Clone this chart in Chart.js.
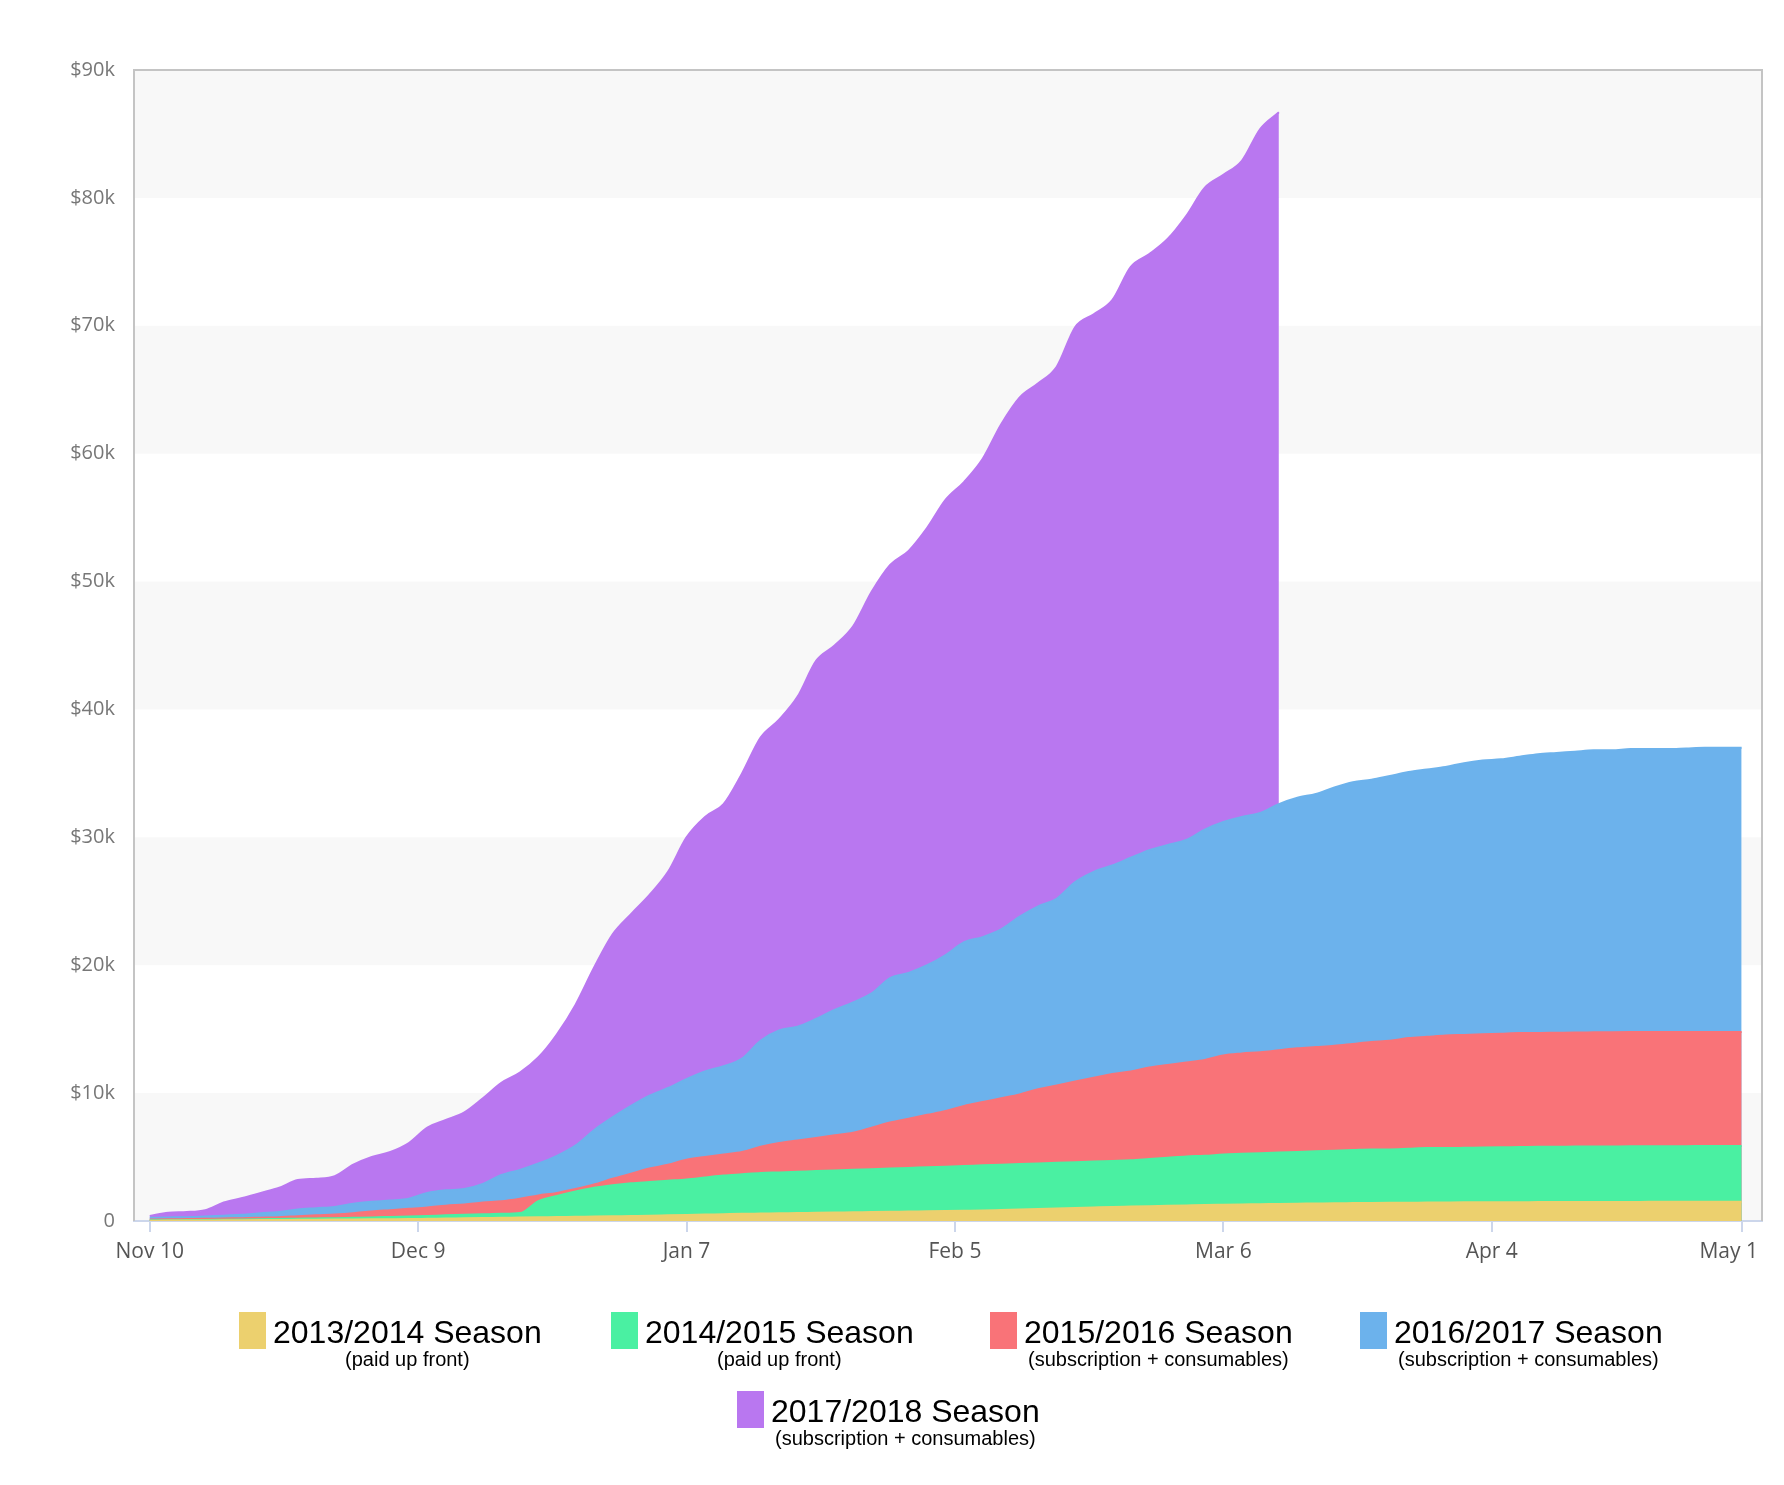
<!DOCTYPE html>
<html><head><meta charset="utf-8">
<script src="https://cdn.jsdelivr.net/npm/chart.js@4.4.1/dist/chart.umd.min.js"></script>
<style>
html,body{margin:0;padding:0;background:#fff;width:1784px;height:1485px;overflow:hidden;}
#wrap{position:absolute;left:0;top:0;width:1784px;height:1290px;}
#legend{position:absolute;left:0;top:0;width:1784px;height:1485px;pointer-events:none;}
.item{position:absolute;}
.sw{position:absolute;left:0;top:0;width:27px;height:37px;}
.txt{position:absolute;left:34px;top:4px;white-space:nowrap;}
.t{font-family:"Liberation Sans",Arial,sans-serif;font-size:32px;line-height:32px;color:#000;}
.s{font-family:"Liberation Sans",Arial,sans-serif;font-size:20px;line-height:22px;color:#000;text-align:center;}
</style></head><body>
<div id="wrap"><canvas id="c" width="1784" height="1290"></canvas></div>
<div id="legend"></div>
<script>
// Days since Nov 10 (season day index)
const days = [0,2,4,6,8,10,12,14,16,18,20,22,24,26,28,30,32,34,36,38,40,42,44,46,48,50,52,54,56,58,60,62,64,66,68,70,72,74,76,78,80,82,84,86,88,90,92,94,96,98,100,102,104,106,108,110,112,114,116,118,120,122,124,126,128,130,132,134,136,138,140,142,144,146,148,150,152,154,156,158,160,162,164,166,168,170,172];

// Tick positions (days) and labels
const tickDays = [0,29,58,87,116,145,172];
const tickLabels = ["Nov 10","Dec 9","Jan 7","Feb 5","Mar 6","Apr 4","May 1"];

// Series names / subtitles / colours
const seriesNames = ["2013/2014 Season","2014/2015 Season","2015/2016 Season","2016/2017 Season","2017/2018 Season"];
const seriesSubs = ["(paid up front)","(paid up front)","(subscription + consumables)","(subscription + consumables)","(subscription + consumables)"];
const seriesColors = ["#ECD06E","#4AF0A2","#F97378","#6CB2EC","#B977F0"];

// Cumulative revenue, in $k
const s2013 = [0.02,0.03,0.03,0.04,0.05,0.06,0.07,0.08,0.09,0.10,
 0.11,0.12,0.13,0.14,0.15,0.17,0.19,0.21,0.23,0.25,
 0.27,0.29,0.31,0.33,0.35,0.37,0.39,0.41,0.44,0.47,
 0.50,0.53,0.56,0.58,0.60,0.62,0.64,0.66,0.68,0.70,
 0.72,0.74,0.76,0.78,0.80,0.82,0.86,0.90,0.94,0.98,
 1.02,1.06,1.10,1.13,1.16,1.19,1.22,1.25,1.27,1.29,
 1.31,1.33,1.35,1.37,1.39,1.40,1.41,1.42,1.43,1.44,
 1.45,1.46,1.46,1.47,1.47,1.48,1.48,1.48,1.49,1.49,
 1.49,1.50,1.50,1.50,1.50,1.50,1.50];
const s2014 = [0.05,0.06,0.07,0.08,0.10,0.12,0.14,0.16,0.18,0.20,
 0.22,0.25,0.28,0.32,0.36,0.40,0.44,0.48,0.52,0.56,
 0.62,1.55,1.95,2.30,2.60,2.80,2.95,3.05,3.15,3.25,
 3.40,3.55,3.65,3.75,3.80,3.85,3.90,3.95,4.00,4.05,
 4.10,4.15,4.20,4.25,4.30,4.35,4.40,4.45,4.50,4.55,
 4.60,4.65,4.70,4.75,4.85,4.95,5.05,5.10,5.20,5.25,
 5.30,5.35,5.40,5.45,5.50,5.55,5.60,5.60,5.65,5.70,
 5.70,5.72,5.75,5.77,5.78,5.80,5.80,5.82,5.82,5.83,
 5.84,5.84,5.85,5.85,5.86,5.86,5.86];
const s2015 = [0.12,0.13,0.15,0.17,0.20,0.22,0.26,0.30,0.38,0.45,
 0.50,0.60,0.75,0.85,0.95,1.05,1.20,1.30,1.45,1.55,
 1.75,2.00,2.20,2.50,2.85,3.30,3.70,4.10,4.40,4.80,
 5.00,5.20,5.40,5.80,6.10,6.30,6.50,6.70,6.90,7.30,
 7.70,8.00,8.30,8.60,9.00,9.30,9.60,9.90,10.30,10.60,
 10.90,11.20,11.50,11.70,12.00,12.20,12.40,12.60,12.95,13.10,
 13.20,13.35,13.50,13.60,13.70,13.85,14.00,14.10,14.30,14.40,
 14.50,14.55,14.60,14.65,14.70,14.70,14.72,14.74,14.75,14.76,
 14.77,14.78,14.78,14.78,14.78,14.78,14.78];
const s2016 = [0.25,0.28,0.30,0.35,0.42,0.48,0.60,0.70,0.90,1.00,
 1.10,1.35,1.50,1.60,1.75,2.20,2.40,2.50,2.90,3.60,
 4.00,4.50,5.10,5.90,7.10,8.10,9.00,9.80,10.40,11.10,
 11.70,12.10,12.70,14.10,14.90,15.20,15.80,16.50,17.10,17.80,
 19.00,19.40,20.00,20.80,21.80,22.20,22.80,23.80,24.60,25.20,
 26.50,27.30,27.80,28.40,29.00,29.40,29.80,30.60,31.20,31.60,
 31.90,32.60,33.10,33.40,33.90,34.30,34.50,34.80,35.10,35.30,
 35.50,35.80,36.00,36.10,36.30,36.50,36.60,36.70,36.80,36.80,
 36.90,36.90,36.90,36.95,37.00,37.00,37.00];
const s2017 = [0.40,0.65,0.70,0.85,1.45,1.80,2.20,2.60,3.20,3.30,
 3.50,4.40,5.00,5.40,6.10,7.30,7.90,8.50,9.60,10.80,
 11.60,12.80,14.60,16.90,19.80,22.40,24.00,25.50,27.30,30.00,
 31.60,32.60,35.00,37.80,39.20,41.00,43.80,45.00,46.50,49.20,
 51.30,52.40,54.20,56.40,57.80,59.60,62.30,64.40,65.50,66.80,
 69.90,70.90,72.00,74.60,75.60,76.80,78.60,80.80,81.80,82.90,
 85.40,86.70];

const seriesValues = [s2013, s2014, s2015, s2016, s2017];

const datasets = seriesValues.map((vals, i) => ({
  label: seriesNames[i],
  data: vals.map((v, j) => ({x: days[j], y: v})),
  backgroundColor: seriesColors[i],
  borderColor: seriesColors[i],
  borderWidth: 2,
  pointRadius: 0,
  fill: 'origin',
  cubicInterpolationMode: 'monotone'
}));

const X_FONT = '21px "Open Sans", sans-serif';

const bandPlugin = {
  id: 'bands',
  beforeDraw(chart) {
    const {ctx, chartArea: a, scales: {y}} = chart;
    const tv = y.ticks.map(t => t.value);
    ctx.save();
    ctx.fillStyle = '#f8f8f8';
    for (let i = 0; i + 1 < tv.length; i += 2) {
      const p0 = y.getPixelForValue(tv[i]), p1 = y.getPixelForValue(tv[i + 1]);
      ctx.fillRect(a.left, p1, a.right - a.left, p0 - p1);
    }
    ctx.restore();
  },
  afterDraw(chart) {
    const {ctx, chartArea: a, scales: {x}} = chart;
    ctx.save();
    ctx.strokeStyle = '#c4c4c4';
    ctx.lineWidth = 2;
    ctx.beginPath();
    ctx.moveTo(a.left, a.bottom);
    ctx.lineTo(a.left, a.top);
    ctx.lineTo(a.right, a.top);
    ctx.lineTo(a.right, a.bottom);
    ctx.stroke();
    // x-axis labels (last one kept inside the plot edge, like the original)
    ctx.font = X_FONT;
    ctx.fillStyle = '#555';
    ctx.textBaseline = 'middle';
    ctx.textAlign = 'center';
    tickDays.forEach((d, k) => {
      let px = x.getPixelForValue(d);
      const w = ctx.measureText(tickLabels[k]).width;
      if (px + w / 2 > a.right - 4) px = a.right - 4 - w / 2;
      ctx.fillText(tickLabels[k], px, a.bottom + 31);
    });
    ctx.restore();
  }
};

new Chart(document.getElementById('c'), {
  type: 'line',
  data: {datasets},
  plugins: [bandPlugin],
  options: {
    responsive: false,
    animation: false,
    devicePixelRatio: 1,
    layout: {padding: {top: 70, right: 22, bottom: 0, left: 0}},
    plugins: {legend: {display: false}, tooltip: {enabled: false}},
    scales: {
      x: {
        type: 'linear',
        min: -1.7,
        max: 174.2,
        afterFit: s => { s.height = 69; },
        afterBuildTicks: s => { s.ticks = tickDays.map(v => ({value: v})); },
        grid: {drawOnChartArea: false, drawTicks: true, tickLength: 11, color: '#ccd6eb', lineWidth: 2},
        border: {display: true, color: '#ccd6eb', width: 2},
        ticks: {display: false}
      },
      y: {
        min: 0, max: 90,
        afterFit: s => { s.width = 134; },
        grid: {display: false},
        border: {display: false},
        ticks: {
          stepSize: 10, padding: 11,
          color: '#777',
          font: {family: '"Open Sans", sans-serif', size: 20},
          callback: v => v === 0 ? '0' : '$' + v + 'k'
        }
      }
    }
  }
});

// HTML legend
const legendPos = [[239,1312],[611,1312],[990,1312],[1360,1312],[737,1391]];
const lg = document.getElementById('legend');
seriesNames.forEach((name, i) => {
  const it = document.createElement('div');
  it.className = 'item';
  it.style.left = legendPos[i][0] + 'px';
  it.style.top = legendPos[i][1] + 'px';
  it.innerHTML = '<span class="sw" style="background:' + seriesColors[i] + '"></span>' +
    '<div class="txt"><div class="t">' + name + '</div><div class="s">' + seriesSubs[i] + '</div></div>';
  lg.appendChild(it);
});
</script>
</body></html>
